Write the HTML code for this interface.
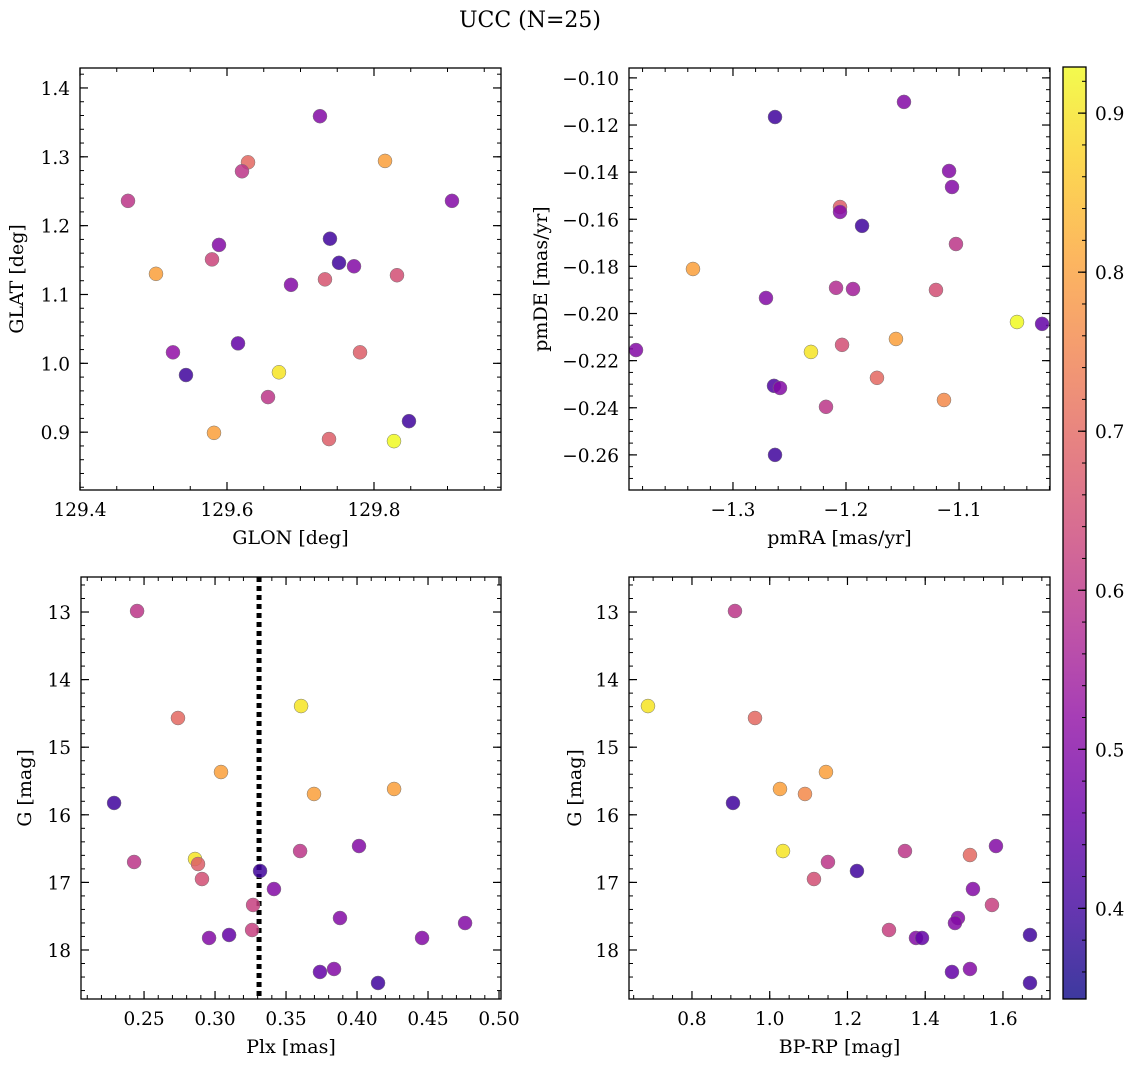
<!DOCTYPE html>
<html><head><meta charset="utf-8">
<style>
body{margin:0;background:#fff;}
svg{display:block;font-family:"DejaVu Serif","Liberation Serif",serif;}
</style></head>
<body>
<svg id="fig" width="1136" height="1067" viewBox="0 0 1136 1067" xmlns="http://www.w3.org/2000/svg">
<defs>
<linearGradient id="plasma" x1="0" y1="1" x2="0" y2="0">
<stop offset="0" stop-color="#0d0887"/><stop offset="0.1" stop-color="#41049d"/><stop offset="0.2" stop-color="#6a00a8"/><stop offset="0.3" stop-color="#8f0da4"/><stop offset="0.4" stop-color="#b12a90"/><stop offset="0.5" stop-color="#cc4778"/><stop offset="0.6" stop-color="#e16462"/><stop offset="0.7" stop-color="#f2844b"/><stop offset="0.8" stop-color="#fca636"/><stop offset="0.9" stop-color="#fcce25"/><stop offset="1" stop-color="#f0f921"/>
</linearGradient>
</defs>
<text x="530" y="27" font-size="22" text-anchor="middle">UCC (N=25)</text>
</svg>
<script>
// Panel 1 data
const glon=[129.4653,129.6286,129.6204,129.7265,129.8150,129.9061,129.5891,129.7401,129.5796,129.5034,129.7524,129.7728,129.7333,129.8313,129.6871,129.5265,129.6150,129.5442,129.6707,129.7810,129.6558,129.5823,129.7388,129.8272,129.8476];
const glat=[1.236,1.292,1.279,1.359,1.294,1.236,1.172,1.181,1.151,1.130,1.146,1.141,1.122,1.128,1.114,1.016,1.029,0.983,0.987,1.016,0.951,0.899,0.890,0.887,0.916];
const c1=[0.6,0.7,0.6,0.5,0.8,0.5,0.5,0.4,0.63,0.8,0.4,0.5,0.66,0.65,0.5,0.52,0.45,0.4,0.9,0.68,0.6,0.8,0.68,0.93,0.4];
// Panel 2 data
const pmra=[-1.2628,-1.1487,-1.1088,-1.1062,-1.2053,-1.2053,-1.1858,-1.1027,-1.3354,-1.2708,-1.2088,-1.1938,-1.1204,-1.0487,-1.0265,-1.3858,-1.231,-1.2035,-1.1558,-1.1726,-1.1133,-1.2637,-1.2584,-1.2177,-1.2628];
const pmde=[-0.1166,-0.1102,-0.1395,-0.1463,-0.1548,-0.1569,-0.1628,-0.1705,-0.1811,-0.1934,-0.1891,-0.1896,-0.19,-0.2036,-0.2044,-0.2155,-0.2163,-0.2133,-0.2108,-0.2273,-0.2367,-0.2307,-0.2316,-0.2396,-0.26];
const c2=[0.4,0.5,0.5,0.5,0.68,0.5,0.4,0.6,0.8,0.5,0.58,0.55,0.65,0.93,0.45,0.5,0.9,0.65,0.8,0.7,0.76,0.42,0.5,0.6,0.4];
// Panel 3 data
const plx=[0.2451,0.2739,0.3606,0.3042,0.2289,0.3697,0.4261,0.243,0.2859,0.288,0.2908,0.3599,0.4014,0.3317,0.3415,0.3268,0.3261,0.2958,0.3099,0.388,0.4761,0.4458,0.3739,0.3838,0.4148];
const g3=[12.985,14.568,14.391,15.367,15.825,15.692,15.618,16.698,16.654,16.728,16.95,16.536,16.462,16.831,17.098,17.334,17.704,17.822,17.778,17.527,17.601,17.822,18.325,18.281,18.488];
const c3=[0.6,0.7,0.9,0.8,0.4,0.8,0.8,0.6,0.9,0.68,0.65,0.6,0.5,0.4,0.5,0.62,0.62,0.5,0.45,0.5,0.5,0.5,0.45,0.5,0.4];
const plxLine=0.331;
// Panel 4 data
const bprp=[0.9106,0.6868,0.9621,1.1447,1.0264,1.0907,0.9055,1.0341,1.1498,1.1138,1.2244,1.3479,1.5151,1.582,1.5228,1.5717,1.4842,1.4765,1.3068,1.3762,1.3917,1.6695,1.4688,1.5151,1.6695];
const g4=[12.985,14.391,14.568,15.367,15.618,15.692,15.825,16.536,16.698,16.95,16.831,16.536,16.595,16.462,17.098,17.334,17.527,17.601,17.704,17.822,17.822,17.778,18.325,18.281,18.488];
const c4=[0.6,0.9,0.7,0.8,0.8,0.76,0.4,0.9,0.6,0.65,0.4,0.6,0.7,0.5,0.5,0.62,0.5,0.5,0.62,0.5,0.45,0.4,0.45,0.5,0.4];
// Tick labels
const ticks1x=[129.4,129.6,129.8], ticks1y=[0.9,1.0,1.1,1.2,1.3,1.4];
const ticks2x=[-1.3,-1.2,-1.1], ticks2y=[-0.26,-0.24,-0.22,-0.20,-0.18,-0.16,-0.14,-0.12,-0.10];
const ticks3x=[0.25,0.30,0.35,0.40,0.45,0.50], ticksGy=[13,14,15,16,17,18];
const ticks4x=[0.8,1.0,1.2,1.4,1.6];
const ticksCb=[0.4,0.5,0.6,0.7,0.8,0.9];
const cmin=0.343,cmax=0.929;

const NS="http://www.w3.org/2000/svg";
const svg=document.getElementById('fig');
const stops=[[0,[13,8,135]],[0.1,[65,4,157]],[0.2,[106,0,168]],[0.3,[143,13,164]],[0.4,[177,42,144]],[0.5,[204,71,120]],[0.6,[225,100,98]],[0.7,[242,132,75]],[0.8,[252,166,54]],[0.9,[252,206,37]],[1,[240,249,33]]];
function cmap(v){let t=(v-cmin)/(cmax-cmin);t=Math.max(0,Math.min(1,t));
 for(let i=1;i<stops.length;i++){if(t<=stops[i][0]){const a=stops[i-1],b=stops[i],f=(t-a[0])/(b[0]-a[0]);
 return 'rgb('+a[1].map((x,k)=>Math.round(x+(b[1][k]-x)*f)).join(',')+')';}}return 'rgb(240,249,33)';}
function mk(tag,attrs,parent){const e=document.createElementNS(NS,tag);for(const k in attrs)e.setAttribute(k,attrs[k]);(parent||svg).appendChild(e);return e;}

function panel(p){
 const g=mk('g',{});
 
 
 const sx=v=>p.x0+(v-p.xmin)/(p.xmax-p.xmin)*(p.x1-p.x0);
 const sy=v=>p.invert? p.y0+(v-p.ymin)/(p.ymax-p.ymin)*(p.y1-p.y0) : p.y1-(v-p.ymin)/(p.ymax-p.ymin)*(p.y1-p.y0);
 function tickset(lo,hi,step){const a=[];for(let v=Math.ceil(lo/step-1e-6)*step;v<=hi+1e-9;v+=step)a.push(v);return a;}
 tickset(p.xmin,p.xmax,p.xminor).forEach(v=>{const X=sx(v);mk('line',{x1:X,x2:X,y1:p.y1,y2:p.y1-4,stroke:'#000','stroke-width':1},g);mk('line',{x1:X,x2:X,y1:p.y0,y2:p.y0+4,stroke:'#000','stroke-width':1},g);});
 tickset(p.ymin,p.ymax,p.yminor).forEach(v=>{const Y=sy(v);mk('line',{x1:p.x0,x2:p.x0+4,y1:Y,y2:Y,stroke:'#000','stroke-width':1},g);mk('line',{x1:p.x1,x2:p.x1-4,y1:Y,y2:Y,stroke:'#000','stroke-width':1},g);});
 p.xt.forEach(v=>{const X=sx(v);mk('line',{x1:X,x2:X,y1:p.y1,y2:p.y1-8,stroke:'#000','stroke-width':1.2},g);mk('line',{x1:X,x2:X,y1:p.y0,y2:p.y0+8,stroke:'#000','stroke-width':1.2},g);
  const t=mk('text',{x:X,y:p.y1+26,'font-size':18.5,'text-anchor':'middle'},g);t.textContent=v.toFixed(p.xd).replace('-','\u2212');});
 p.yt.forEach(v=>{const Y=sy(v);mk('line',{x1:p.x0,x2:p.x0+8,y1:Y,y2:Y,stroke:'#000','stroke-width':1.2},g);mk('line',{x1:p.x1,x2:p.x1-8,y1:Y,y2:Y,stroke:'#000','stroke-width':1.2},g);
  const t=mk('text',{x:p.x0-10,y:Y+7,'font-size':18.5,'text-anchor':'end'},g);t.textContent=v.toFixed(p.yd).replace('-','\u2212');});
 if(p.vline!==undefined){const X=sx(p.vline);const l=mk('line',{x1:X,x2:X,y1:p.y0,y2:p.y1,stroke:'#000','stroke-width':5,'stroke-dasharray':'5,4'},g);}
 p.xs.forEach((v,i)=>{const c=mk('circle',{cx:sx(v),cy:sy(p.ys[i]),r:7,fill:cmap(p.cs[i]),'fill-opacity':0.85,stroke:'#777','stroke-width':0.5},g);
  
  });
 const fr=mk('rect',{x:p.x0,y:p.y0,width:p.x1-p.x0,height:p.y1-p.y0,fill:'none',stroke:'#000','stroke-width':1.3},g);
 
 const xl=mk('text',{x:(p.x0+p.x1)/2,y:p.y1+54,'font-size':19,'text-anchor':'middle'},g);xl.textContent=p.xlabel;
 
 const yx=p.ylx, yy=(p.y0+p.y1)/2;
 const yl=mk('text',{x:yx,y:yy+6,'font-size':19,'text-anchor':'middle',transform:'rotate(-90 '+yx+' '+yy+')'},g);yl.textContent=p.ylabel;
 
}
panel({name:'glon-glat-panel',ylx:17,x0:80,x1:501,y0:68,y1:490,xmin:129.4,xmax:129.9728,ymin:0.816,ymax:1.429,xt:ticks1x,yt:ticks1y,xminor:0.05,yminor:0.02,xd:1,yd:1,xs:glon,ys:glat,cs:c1,xlabel:'GLON [deg]',ylabel:'GLAT [deg]'});
panel({name:'pm-panel',ylx:541,x0:629,x1:1050,y0:68,y1:490,xmin:-1.392,xmax:-1.0195,ymin:-0.2749,ymax:-0.0958,xt:ticks2x,yt:ticks2y,xminor:0.02,yminor:0.005,xd:1,yd:2,xs:pmra,ys:pmde,cs:c2,xlabel:'pmRA [mas/yr]',ylabel:'pmDE [mas/yr]'});
panel({name:'plx-g-panel',ylx:25,x0:81,x1:501,y0:577,y1:999,xmin:0.2056,xmax:0.5014,ymin:12.482,ymax:18.725,invert:true,xt:ticks3x,yt:ticksGy,xminor:0.01,yminor:0.2,xd:2,yd:0,xs:plx,ys:g3,cs:c3,vline:plxLine,xlabel:'Plx [mas]',ylabel:'G [mag]'});
panel({name:'cmd-panel',ylx:575,x0:629,x1:1050,y0:577,y1:999,xmin:0.638,xmax:1.721,ymin:12.482,ymax:18.725,invert:true,xt:ticks4x,yt:ticksGy,xminor:0.05,yminor:0.2,xd:1,yd:0,xs:bprp,ys:g4,cs:c4,xlabel:'BP-RP [mag]',ylabel:'G [mag]'});

// colorbar
const cb=mk('g',{});


const cx0=1063,cx1=1086,cy0=67,cy1=999;
mk('rect',{x:cx0,y:cy0,width:cx1-cx0,height:cy1-cy0,fill:'url(#plasma)','fill-opacity':0.8},cb);
const cy=v=>cy1-(v-cmin)/(cmax-cmin)*(cy1-cy0);
for(let v=0.36;v<cmax;v+=0.02){const Y=cy(v);mk('line',{x1:cx1,x2:cx1-4,y1:Y,y2:Y,stroke:'#000','stroke-width':1},cb);}
ticksCb.forEach(v=>{const Y=cy(v);mk('line',{x1:cx1,x2:cx1-8,y1:Y,y2:Y,stroke:'#000','stroke-width':1.2},cb);
 const t=mk('text',{x:cx1+9,y:Y+7,'font-size':18.5},cb);t.textContent=v.toFixed(1);
 });
mk('rect',{x:cx0,y:cy0,width:cx1-cx0,height:cy1-cy0,fill:'none',stroke:'#000','stroke-width':1.3},cb);
</script>
</body></html>
